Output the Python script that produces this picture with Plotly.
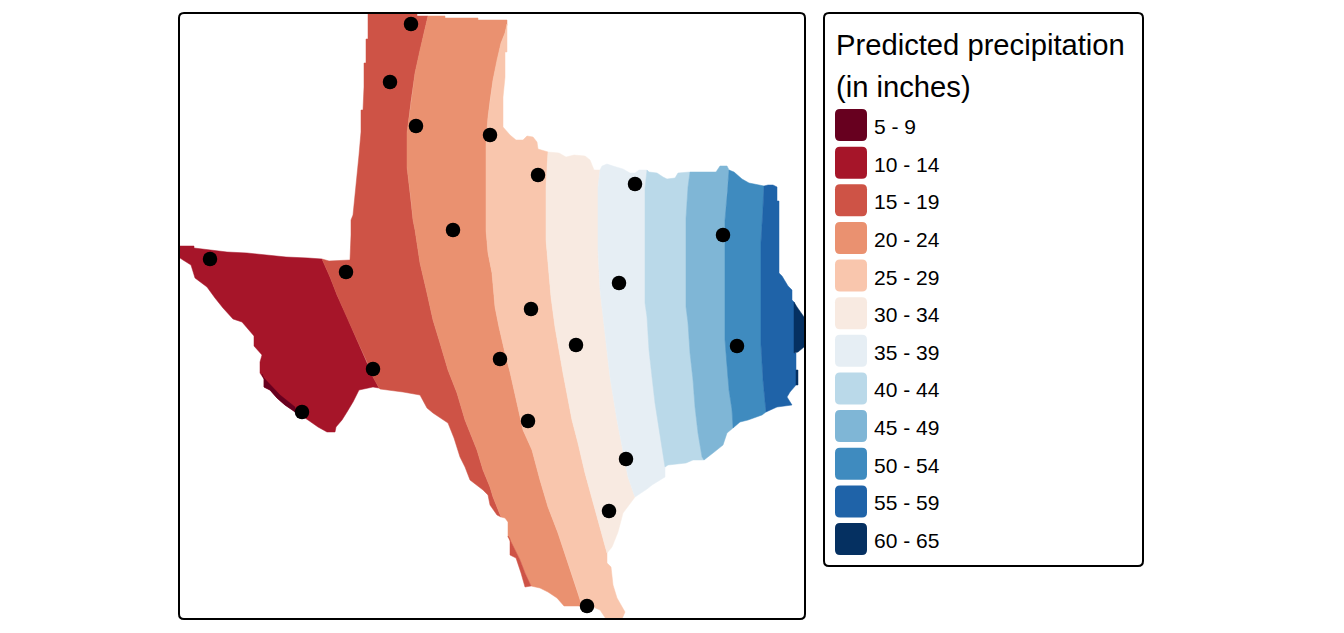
import plotly.graph_objects as go

# legend classes and colours
labels = ["5 - 9", "10 - 14", "15 - 19", "20 - 24", "25 - 29", "30 - 34",
          "35 - 39", "40 - 44", "45 - 49", "50 - 54", "55 - 59", "60 - 65"]
colors = ["#67001F", "#A61529", "#CE5346", "#EA9170", "#F9C6AD", "#F8EAE1",
          "#E6EEF4", "#BAD9E9", "#7FB6D6", "#3F8BBF", "#1F63A8", "#053061"]

# stations
station_x = [411, 390, 416, 490, 538, 635, 453, 723, 210, 346, 619, 531, 737, 576, 500, 373, 302, 528, 626, 609, 587]
station_y = [24, 82, 126, 135, 175, 184, 230, 235, 259, 272, 283, 309, 346, 345, 359, 369, 412, 421, 459, 511, 606]

# boundaries between classes, north to south
line_w = [(322, 259), (330, 277), (337, 295), (347, 317), (357, 340), (367, 362), (373, 377), (379, 388)]
line_a = [(428, 16), (424, 33), (420, 50), (415, 73), (411, 100), (407, 133), (407, 167), (411, 200), (413, 220),
          (415, 230), (420, 263), (427, 293), (433, 320), (440, 343), (448, 370), (457, 393), (465, 420), (477, 450),
          (483, 470), (490, 487), (493, 497), (501, 517)]
line_b = [(507, 24), (505, 33), (501, 43), (497, 60), (493, 80), (490, 100), (488, 117), (486, 143), (486, 230),
          (488, 253), (492, 273), (495, 307), (499, 327), (505, 353), (510, 372), (523, 430), (532, 450), (540, 480),
          (548, 507), (558, 533), (568, 563), (578, 593), (582, 606)]
line_c = [(548, 152), (546, 187), (546, 240), (549, 273), (551, 297), (555, 327), (563, 373), (572, 420), (578, 443),
          (585, 473), (593, 503), (600, 527), (607, 553)]
line_d = [(600, 170), (598, 187), (598, 250), (600, 290), (605, 333), (610, 377), (617, 420), (623, 450), (628, 477),
          (635, 497)]
line_e = [(647, 170), (645, 188), (645, 303), (647, 317), (649, 350), (652, 377), (655, 403), (660, 433), (665, 467)]
line_f = [(690, 172), (688, 187), (686, 218), (686, 307), (688, 323), (690, 353), (693, 380), (695, 407), (698, 433),
          (702, 457), (704, 460)]
line_g = [(729, 170), (727, 190), (725, 220), (725, 340), (727, 360), (729, 390), (732, 410), (733, 428)]
line_h = [(764, 186), (763, 208), (761, 242), (761, 345), (763, 380), (766, 412)]
line_i = [(794, 302), (794, 353)]

# state outline, piece by piece
west_panhandle = [(350, 260), (351, 235), (351, 220), (353, 215), (355, 197), (357, 175), (359, 155), (361, 132),
                  (361, 110), (363, 110), (364, 87), (364, 63), (366, 63), (366, 39), (368, 39)]
top_15 = [(368, 13), (389, 13), (389, 14), (417, 14), (417, 16)]
top_20 = [(445, 16), (445, 18), (478, 18), (478, 20), (507, 20)]
north_25 = [(507, 52), (505, 52), (505, 77), (503, 97), (503, 127), (510, 135), (516, 140), (523, 140), (527, 136),
            (533, 137), (537, 142), (538, 149)]
north_30 = [(559, 153), (566, 157), (574, 155), (585, 156), (590, 160), (594, 170)]
north_35 = [(602, 166), (607, 164), (613, 166), (623, 169), (630, 173), (635, 173), (639, 170)]
north_40 = [(649, 172), (657, 173), (663, 177), (667, 179), (675, 178), (678, 173)]
north_45 = [(716, 172), (720, 166), (727, 166)]
north_50 = [(734, 172), (737, 175), (742, 179), (749, 183)]
north_55 = [(768, 185), (773, 185), (777, 187), (777, 201), (779, 201), (779, 273), (782, 276), (788, 286), (792, 290),
            (792, 300)]
east_60 = [(797, 307), (804, 317), (804, 347), (798, 352)]
south_55 = [(796, 353), (796, 385), (790, 392), (787, 397), (792, 405), (777, 407)]
south_50 = [(762, 415), (748, 420), (740, 422)]
south_45 = [(727, 433), (723, 445), (713, 453)]
south_40 = [(693, 460), (686, 463), (668, 465)]
south_35 = [(665, 477), (652, 485), (647, 489), (637, 495)]
south_30 = [(623, 513), (618, 532), (612, 547)]
south_25 = [(607, 563), (611, 567), (613, 585), (617, 598), (625, 612), (622, 619), (606, 619), (600, 610), (593, 607)]
south_20 = [(564, 606), (557, 598), (548, 592), (540, 588), (531, 586), (525, 573), (520, 560), (514, 548), (508, 537),
            (508, 522), (505, 518)]
south_15 = [(497, 515), (490, 505), (488, 495), (483, 490), (470, 480), (465, 467), (460, 457), (454, 438), (448, 423),
            (433, 413), (427, 408), (420, 395), (403, 392), (380, 389)]
south_10 = [(373, 387), (359, 390), (353, 402), (347, 412), (342, 420), (336, 427), (335, 432), (327, 432), (318, 427),
            (308, 420), (295, 412), (285, 405), (277, 398), (270, 390), (264, 387), (264, 379), (260, 373), (260, 362),
            (262, 355), (254, 346), (254, 336), (242, 322), (233, 319), (223, 308), (215, 298), (207, 287), (195, 278),
            (191, 265), (183, 260), (180, 258)]
north_10 = [(180, 246), (194, 246), (194, 248), (211, 250), (227, 252), (247, 253), (265, 255), (286, 257), (308, 258)]
step_15 = [(329, 261)]

# small slivers
sliver_5 = [(262, 374), (264, 379), (264, 387), (270, 390), (277, 398), (285, 405), (295, 412), (295, 407), (280, 395),
            (270, 385), (263, 377)]
sliver_15 = [(508, 536), (510, 539), (510, 555), (516, 558), (521, 573), (525, 587), (531, 586), (525, 573), (520, 560),
             (514, 548)]
sliver_60 = [(796, 370), (798, 370), (798, 385), (796, 385)]

r = lambda pts: pts[::-1]

band_rings = [
    (1, north_10 + line_w + south_10),
    (0, sliver_5),
    (2, top_15 + line_a + south_15 + r(line_w) + step_15 + west_panhandle),
    (3, [(428, 16)] + top_20 + line_b + south_20 + r(line_a)),
    (4, north_25 + line_c + south_25 + r(line_b)),
    (5, north_30 + line_d + south_30 + r(line_c)),
    (6, north_35 + line_e + south_35 + r(line_d)),
    (7, north_40 + line_f + south_40 + r(line_e)),
    (8, [(690, 172)] + north_45 + line_g + south_45 + r(line_f)),
    (9, north_50 + line_h + south_50 + r(line_g)),
    (10, north_55 + line_i + south_55 + r(line_h)),
    (11, r(line_i) + east_60),
    (2, sliver_15),
    (11, sliver_60),
]

fig = go.Figure()

for idx, ring in band_rings:
    pts = ring + ring[:1]
    fig.add_trace(go.Scatter(
        x=[p[0] for p in pts], y=[p[1] for p in pts],
        mode="lines", fill="toself", fillcolor=colors[idx],
        line=dict(width=0.5, color=colors[idx]), name=labels[idx],
        showlegend=False, hoverinfo="name"
    ))

fig.add_trace(go.Scatter(
    x=station_x, y=station_y, mode="markers",
    marker=dict(size=14.5, color="black"), showlegend=False, name="stations"
))


def round_box(x0, y0, x1, y1, rad):
    return (f"M{x0+rad},{y0} L{x1-rad},{y0} Q{x1},{y0} {x1},{y0+rad} L{x1},{y1-rad} Q{x1},{y1} {x1-rad},{y1} "
            f"L{x0+rad},{y1} Q{x0},{y1} {x0},{y1-rad} L{x0},{y0+rad} Q{x0},{y0} {x0+rad},{y0} Z")


shapes = [
    dict(type="path", path=round_box(179, 13, 805, 619, 5), line=dict(color="black", width=2)),
    dict(type="path", path=round_box(824, 13, 1143, 566, 5), line=dict(color="black", width=2)),
]
annotations = [
    dict(x=833.5, y=45, text="Predicted precipitation", xanchor="left", yanchor="middle", showarrow=False,
         font=dict(size=29.2, color="black")),
    dict(x=833.5, y=87, text="(in inches)", xanchor="left", yanchor="middle", showarrow=False,
         font=dict(size=29.2, color="black")),
]
for i, lab in enumerate(labels):
    top = 109 + i * 37.64
    shapes.append(dict(type="path", path=round_box(835, top, 867, top + 32, 5),
                       fillcolor=colors[i], line=dict(width=0)))
    annotations.append(dict(x=871.5, y=top + 17.5, text=lab, xanchor="left", yanchor="middle", showarrow=False,
                            font=dict(size=21, color="black")))

# the page has an 8px body margin, so the axes start at 8 to keep picture pixels
fig.update_layout(
    width=1336, height=625, margin=dict(l=0, r=0, t=0, b=0),
    paper_bgcolor="white", plot_bgcolor="white",
    font=dict(family="Liberation Sans"),
    xaxis=dict(range=[8, 1344], visible=False, fixedrange=True),
    yaxis=dict(range=[633, 8], visible=False, fixedrange=True),
    shapes=shapes, annotations=annotations, showlegend=False
)

fig.write_html("out.html")
